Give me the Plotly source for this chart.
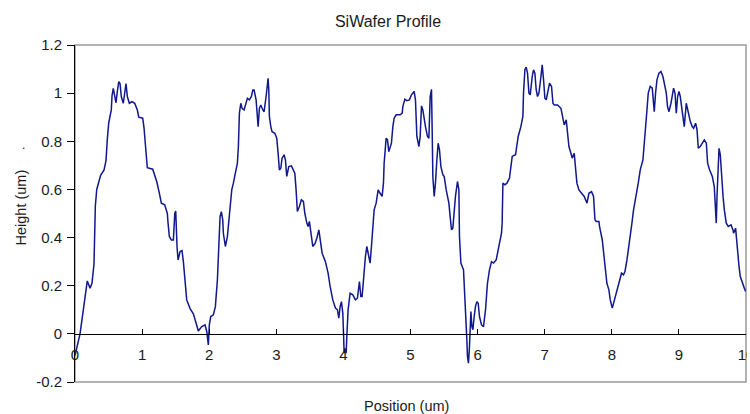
import plotly.graph_objects as go

# Surface profile of the Si wafer: position along the scan (um) and measured height (um)
position_um = [
    0.000, 0.075, 0.124, 0.164, 0.183, 0.224, 0.253, 0.283, 0.294, 0.303,
    0.324, 0.353, 0.383, 0.432, 0.462, 0.482, 0.502, 0.541, 0.552, 0.571,
    0.592, 0.611, 0.631, 0.652, 0.671, 0.690, 0.720, 0.750, 0.760, 0.780,
    0.810, 0.850, 0.890, 0.929, 0.950, 1.009, 1.029, 1.048, 1.078, 1.158,
    1.178, 1.218, 1.257, 1.287, 1.337, 1.376, 1.387, 1.406, 1.436, 1.466,
    1.487, 1.501, 1.521, 1.536, 1.566, 1.595, 1.615, 1.645, 1.665, 1.715,
    1.764, 1.815, 1.838, 1.889, 1.938, 1.964, 1.987, 2.002, 2.023, 2.062,
    2.092, 2.122, 2.143, 2.152, 2.162, 2.181, 2.202, 2.211, 2.241, 2.271,
    2.301, 2.336, 2.360, 2.400, 2.420, 2.435, 2.450, 2.471, 2.490, 2.520,
    2.539, 2.569, 2.599, 2.629, 2.650, 2.669, 2.699, 2.718, 2.729, 2.748,
    2.769, 2.799, 2.818, 2.848, 2.867, 2.878, 2.888, 2.897, 2.918, 2.937,
    2.978, 3.007, 3.027, 3.046, 3.067, 3.086, 3.116, 3.136, 3.156, 3.186,
    3.225, 3.255, 3.276, 3.295, 3.314, 3.344, 3.374, 3.404, 3.425, 3.455,
    3.474, 3.493, 3.514, 3.544, 3.578, 3.604, 3.634, 3.653, 3.683, 3.732,
    3.772, 3.802, 3.842, 3.881, 3.911, 3.932, 3.951, 3.971, 3.991, 4.000,
    4.011, 4.026, 4.041, 4.051, 4.070, 4.100, 4.140, 4.179, 4.209, 4.239,
    4.260, 4.279, 4.309, 4.328, 4.349, 4.379, 4.398, 4.418, 4.439, 4.458,
    4.488, 4.518, 4.547, 4.577, 4.597, 4.607, 4.637, 4.657, 4.677, 4.716,
    4.737, 4.756, 4.786, 4.846, 4.876, 4.886, 4.916, 4.946, 4.984, 5.014,
    5.054, 5.074, 5.095, 5.125, 5.144, 5.164, 5.184, 5.204, 5.223, 5.253,
    5.274, 5.293, 5.313, 5.323, 5.333, 5.353, 5.372, 5.393, 5.412, 5.432,
    5.453, 5.482, 5.502, 5.532, 5.572, 5.591, 5.611, 5.631, 5.670, 5.700,
    5.721, 5.730, 5.751, 5.790, 5.810, 5.830, 5.840, 5.849, 5.864, 5.879,
    5.889, 5.900, 5.915, 5.930, 5.949, 5.968, 5.989, 6.009, 6.028, 6.058,
    6.088, 6.118, 6.147, 6.177, 6.207, 6.237, 6.277, 6.296, 6.326, 6.356,
    6.366, 6.377, 6.407, 6.437, 6.475, 6.516, 6.565, 6.586, 6.605, 6.645,
    6.675, 6.684, 6.705, 6.724, 6.744, 6.765, 6.784, 6.814, 6.833, 6.854,
    6.873, 6.893, 6.914, 6.944, 6.963, 6.983, 7.003, 7.023, 7.042, 7.072,
    7.102, 7.123, 7.142, 7.191, 7.242, 7.266, 7.291, 7.321, 7.340, 7.361,
    7.391, 7.410, 7.440, 7.460, 7.480, 7.510, 7.549, 7.589, 7.630, 7.659,
    7.698, 7.728, 7.749, 7.768, 7.808, 7.817, 7.858, 7.877, 7.898, 7.927,
    7.957, 7.977, 8.007, 8.026, 8.056, 8.086, 8.116, 8.145, 8.175, 8.196,
    8.226, 8.256, 8.275, 8.300, 8.324, 8.364, 8.394, 8.424, 8.443, 8.464,
    8.484, 8.503, 8.524, 8.543, 8.573, 8.603, 8.622, 8.633, 8.652, 8.673,
    8.703, 8.733, 8.762, 8.782, 8.812, 8.831, 8.852, 8.882, 8.901, 8.921,
    8.942, 8.961, 8.981, 9.001, 9.020, 9.040, 9.061, 9.080, 9.110, 9.129,
    9.150, 9.170, 9.199, 9.219, 9.249, 9.270, 9.289, 9.319, 9.349, 9.379,
    9.409, 9.428, 9.458, 9.498, 9.527, 9.547, 9.557, 9.568, 9.587, 9.598,
    9.617, 9.637, 9.658, 9.677, 9.706, 9.736, 9.777, 9.806, 9.815, 9.845,
    9.866, 9.896, 9.915, 9.945, 9.975, 9.994,
]

height_um = [
    -0.090, 0.000, 0.100, 0.200, 0.220, 0.190, 0.210, 0.290, 0.400, 0.530,
    0.600, 0.630, 0.660, 0.680, 0.720, 0.810, 0.875, 0.930, 0.990, 1.020,
    0.990, 0.960, 1.007, 1.048, 1.040, 0.986, 0.958, 1.013, 1.040, 0.986,
    0.958, 0.965, 0.958, 0.930, 0.900, 0.896, 0.855, 0.790, 0.690, 0.684,
    0.667, 0.633, 0.585, 0.543, 0.536, 0.500, 0.460, 0.404, 0.390, 0.390,
    0.500, 0.510, 0.360, 0.307, 0.342, 0.346, 0.300, 0.200, 0.141, 0.105,
    0.083, 0.035, 0.012, 0.030, 0.037, 0.010, -0.046, 0.037, 0.072, 0.079,
    0.113, 0.224, 0.363, 0.430, 0.487, 0.508, 0.474, 0.418, 0.363, 0.404,
    0.487, 0.598, 0.626, 0.681, 0.709, 0.778, 0.917, 0.958, 0.937, 0.930,
    0.951, 0.979, 0.972, 0.986, 1.013, 1.013, 0.972, 0.875, 0.861, 0.937,
    0.951, 0.930, 0.923, 0.986, 1.028, 1.062, 1.013, 0.903, 0.861, 0.840,
    0.833, 0.813, 0.750, 0.681, 0.688, 0.730, 0.744, 0.723, 0.654, 0.695,
    0.698, 0.681, 0.667, 0.598, 0.508, 0.529, 0.557, 0.550, 0.501, 0.460,
    0.446, 0.467, 0.430, 0.363, 0.376, 0.397, 0.432, 0.390, 0.335, 0.300,
    0.252, 0.197, 0.141, 0.107, 0.100, 0.065, 0.113, 0.134, 0.086, 0.017,
    -0.080, -0.060, -0.080, -0.011, 0.100, 0.169, 0.162, 0.141, 0.148, 0.217,
    0.155, 0.155, 0.266, 0.321, 0.363, 0.321, 0.294, 0.363, 0.474, 0.515,
    0.543, 0.598, 0.584, 0.571, 0.626, 0.709, 0.813, 0.806, 0.757, 0.792,
    0.861, 0.896, 0.910, 0.910, 0.917, 0.944, 0.975, 0.969, 0.972, 0.993,
    1.007, 0.972, 0.820, 0.778, 0.820, 0.947, 0.930, 0.889, 0.861, 0.820,
    0.813, 0.986, 1.016, 0.848, 0.654, 0.571, 0.626, 0.723, 0.792, 0.764,
    0.695, 0.661, 0.654, 0.598, 0.543, 0.487, 0.432, 0.439, 0.571, 0.633,
    0.598, 0.404, 0.294, 0.266, 0.169, 0.058, -0.025, -0.094, -0.122, -0.053,
    0.086, 0.093, 0.030, 0.017, 0.072, 0.113, 0.134, 0.127, 0.072, 0.037,
    0.030, 0.100, 0.210, 0.266, 0.300, 0.294, 0.307, 0.335, 0.376, 0.418,
    0.460, 0.626, 0.619, 0.626, 0.647, 0.737, 0.744, 0.778, 0.820, 0.861,
    0.903, 1.000, 1.097, 1.108, 1.083, 1.000, 0.993, 1.069, 1.097, 1.083,
    1.014, 0.986, 1.000, 1.069, 1.118, 1.055, 0.979, 0.972, 1.000, 1.041,
    1.028, 0.958, 0.951, 0.951, 0.937, 0.900, 0.868, 0.889, 0.833, 0.778,
    0.750, 0.730, 0.750, 0.695, 0.626, 0.598, 0.584, 0.571, 0.543, 0.584,
    0.591, 0.571, 0.474, 0.467, 0.467, 0.446, 0.390, 0.335, 0.266, 0.210,
    0.183, 0.141, 0.107, 0.127, 0.169, 0.197, 0.231, 0.252, 0.245, 0.259,
    0.307, 0.363, 0.418, 0.460, 0.515, 0.571, 0.626, 0.681, 0.709, 0.723,
    0.792, 0.875, 0.930, 1.000, 1.028, 1.021, 0.930, 0.923, 1.000, 1.055,
    1.083, 1.090, 1.069, 1.034, 1.000, 0.944, 0.923, 0.958, 1.000, 1.021,
    1.000, 0.917, 0.986, 1.007, 0.986, 0.944, 0.889, 0.861, 0.958, 0.930,
    0.903, 0.882, 0.861, 0.854, 0.875, 0.848, 0.771, 0.778, 0.792, 0.806,
    0.792, 0.709, 0.681, 0.654, 0.612, 0.487, 0.460, 0.571, 0.750, 0.771,
    0.744, 0.640, 0.571, 0.515, 0.460, 0.446, 0.453, 0.432, 0.418, 0.439,
    0.363, 0.280, 0.238, 0.210, 0.190, 0.176,
]

x_tick_vals = [0, 1, 2, 3, 4, 5, 6, 7, 8, 9, 10]
x_tick_text = ["0", "1", "2", "3", "4", "5", "6", "7", "8", "9", "10"]
y_tick_vals = [-0.2, 0, 0.2, 0.4, 0.6, 0.8, 1.0, 1.2]
y_tick_text = ["-0.2", "0", "0.2", "0.4", "0.6", "0.8", "1", "1.2"]

FONT = "Liberation Sans, Arial, sans-serif"
TEXT = "#1a1a1a"
Y_MIN, Y_MAX = -0.2, 1.2
W, H = 747, 414  # the chart area ends just right of the plot frame

fig = go.Figure()
fig.add_trace(go.Scatter(
    x=position_um, y=height_um, mode="lines",
    line=dict(color="#10188c", width=1.5),
    showlegend=False, hoverinfo="x+y",
))

fig.update_layout(
    width=W, height=H,
    margin=dict(l=75, r=1, t=45, b=32, autoexpand=False),
    paper_bgcolor="white", plot_bgcolor="white",
    font=dict(family=FONT, size=15, color=TEXT),
    title=dict(text="SiWafer Profile", x=388 / W, xanchor="center",
               y=1 - 21 / H, yanchor="middle",
               font=dict(family=FONT, size=16, color=TEXT)),
    xaxis=dict(
        range=[0, 10], tickvals=x_tick_vals, ticktext=x_tick_text,
        anchor="free", position=(0 - Y_MIN) / (Y_MAX - Y_MIN),
        showline=True, linecolor="black", linewidth=1,
        ticks="inside", ticklen=5, tickcolor="black",
        showgrid=False, zeroline=False, ticklabelstandoff=7,
        ticklabeloverflow="allow", automargin=False,
    ),
    yaxis=dict(
        range=[Y_MIN, Y_MAX], tickvals=y_tick_vals, ticktext=y_tick_text,
        showline=True, linecolor="black", linewidth=1,
        ticks="outside", ticklen=7, tickcolor="black",
        showgrid=False, zeroline=False, ticklabelstandoff=2,
        automargin=False,
    ),
    shapes=[dict(type="rect", xref="paper", yref="paper",
                 x0=0, x1=1, y0=0, y1=1, layer="below",
                 line=dict(color="#9a9a9a", width=1.5))],
    annotations=[
        dict(text="Height (um)", xref="paper", yref="paper",
             x=(20 - 75) / 671, y=(382 - 207.5) / 337, textangle=-90,
             showarrow=False, xanchor="center", yanchor="middle",
             font=dict(size=14.5)),
        dict(text="Position (um)", xref="paper", yref="paper",
             x=(406.5 - 75) / 671, y=(382 - 406) / 337, showarrow=False,
             xanchor="center", yanchor="middle", font=dict(size=14.5)),
        dict(text=".", xref="paper", yref="paper",
             x=(23 - 75) / 671, y=(382 - 145) / 337, showarrow=False,
             xanchor="center", yanchor="middle", font=dict(size=12)),
    ],
)

fig.write_html("out.html")
